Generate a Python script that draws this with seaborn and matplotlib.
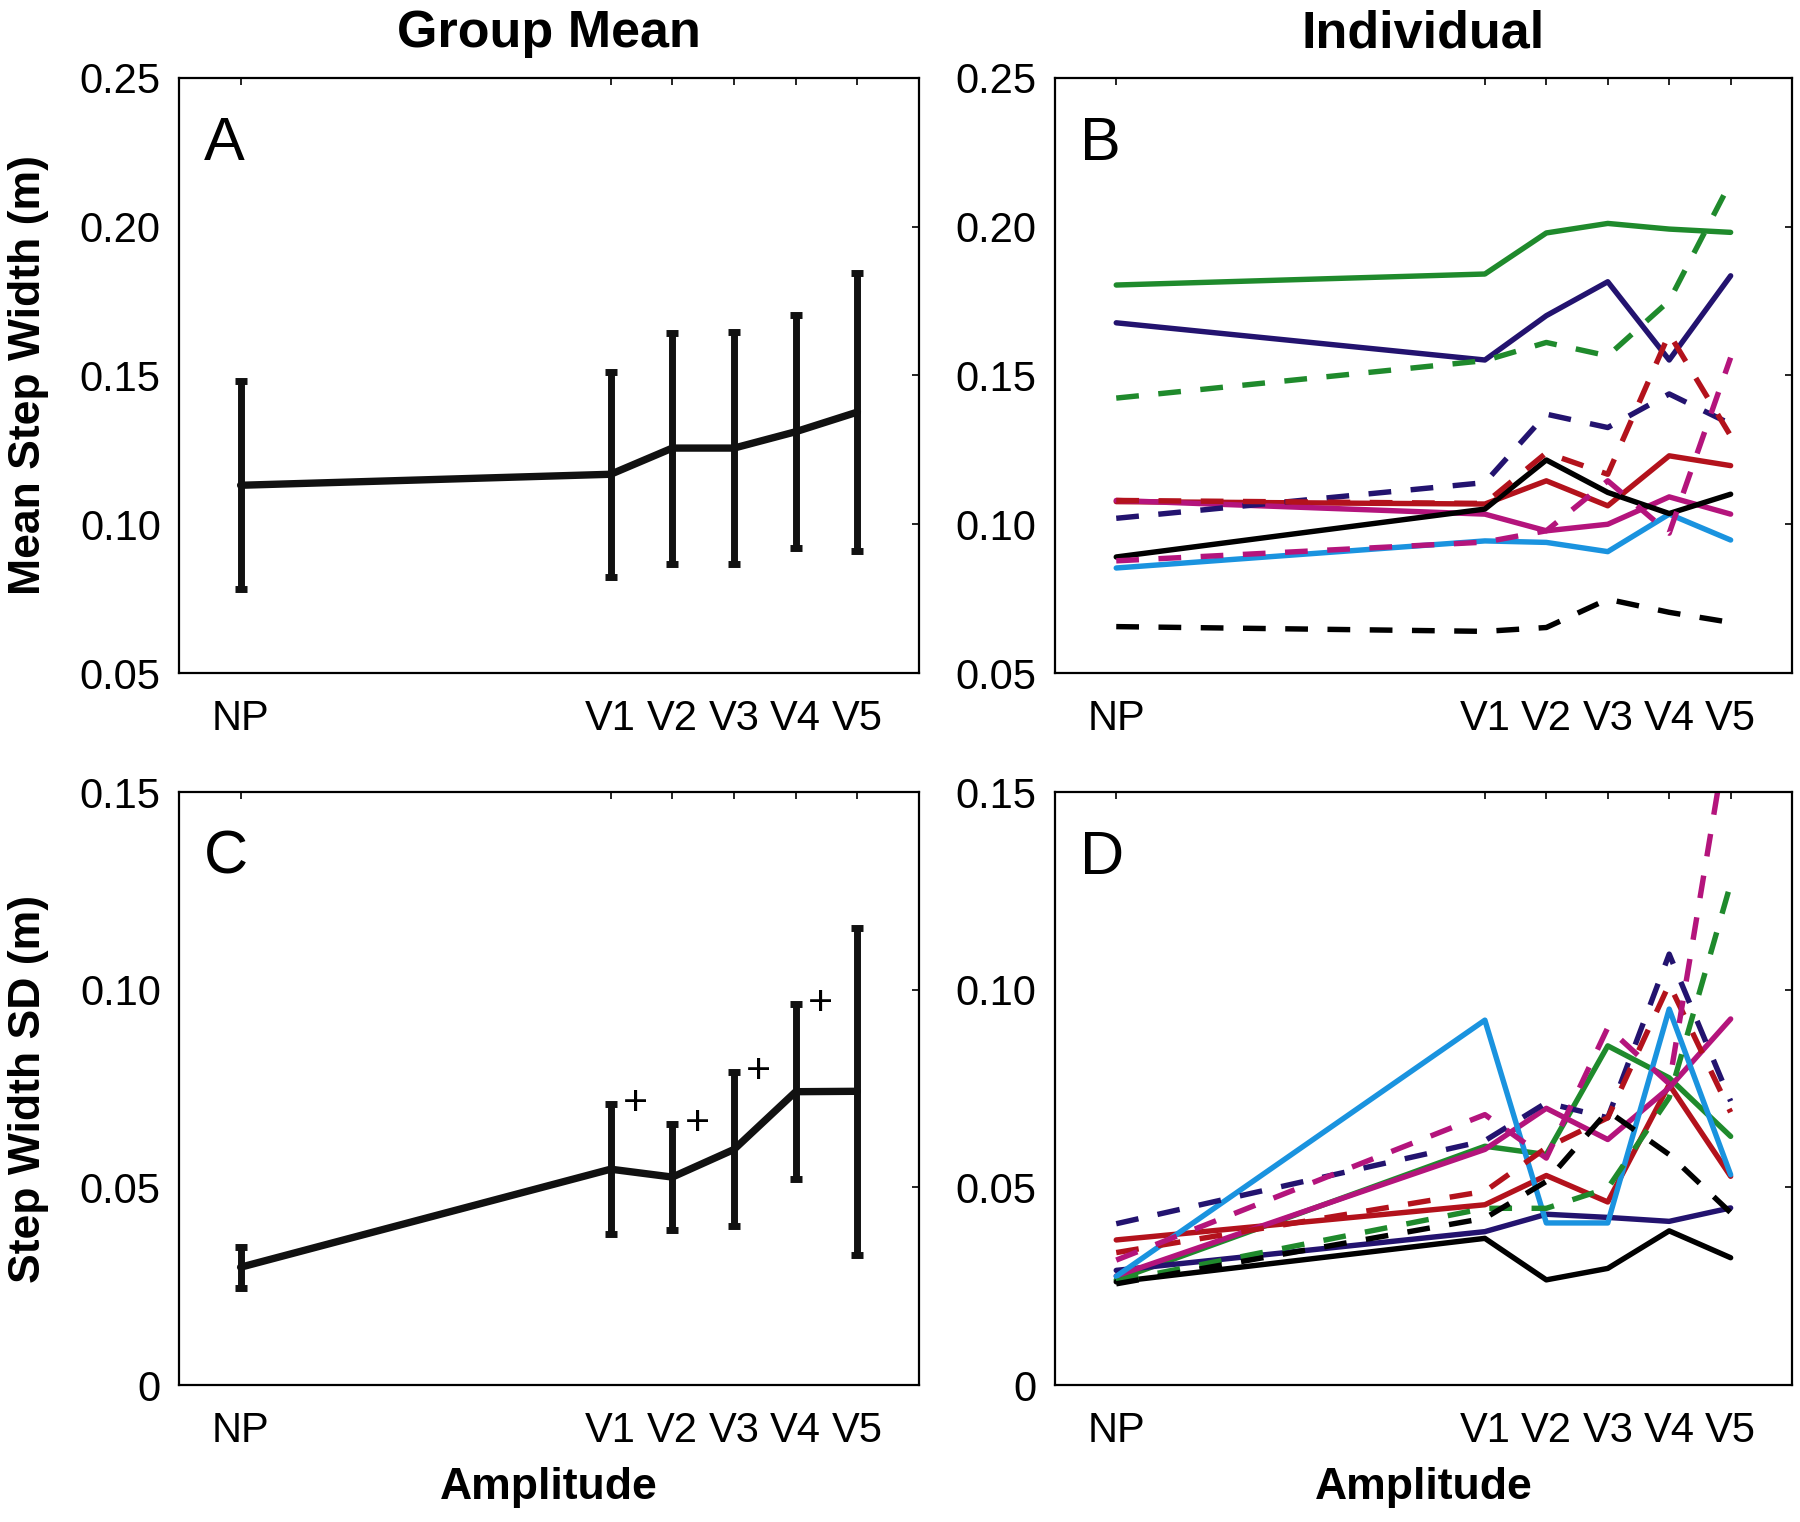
import numpy as np
import pandas as pd
import matplotlib
matplotlib.use("Agg")
import matplotlib.pyplot as plt
import seaborn as sns

# Conditions (no perturbation + five amplitudes)
conditions = ['NP', 'V1', 'V2', 'V3', 'V4', 'V5']
amp_pos = [0, 6, 7, 8, 9, 10]

# Group mean +/- SD
mean_width = [0.1131, 0.1168, 0.1256, 0.1256, 0.1311, 0.1377]
mean_width_err = [0.0350, 0.0344, 0.0388, 0.0390, 0.0392, 0.0467]
sd_width = [0.0298, 0.0546, 0.0526, 0.0596, 0.0742, 0.0743]
sd_width_err = [0.0052, 0.0164, 0.0134, 0.0195, 0.0222, 0.0413]
sd_marks = ['', '+', '+', '+', '+', '']

# Individual subjects
subjects = ['S1', 'S2', 'S3', 'S4', 'S5', 'S6', 'S7', 'S8', 'S9', 'S10', 'S11']
subject_colors = ['#1f8a2c', '#23136f', '#b3121c', '#b4147c', '#1a93df', '#000000',
                  '#1f8a2c', '#23136f', '#b3121c', '#b4147c', '#000000']
subject_dashed = [False, False, False, False, False, False,
                  True, True, True, True, True]

indiv_width = [
    [0.1804, 0.1841, 0.1979, 0.2011, 0.1992, 0.1981],
    [0.1677, 0.1552, 0.1701, 0.1815, 0.1552, 0.1835],
    [0.1076, 0.1068, 0.1146, 0.1062, 0.1230, 0.1197],
    [0.1080, 0.1034, 0.0978, 0.1000, 0.1092, 0.1034],
    [0.0853, 0.0944, 0.0939, 0.0908, 0.1034, 0.0947],
    [0.0890, 0.1051, 0.1216, 0.1107, 0.1036, 0.1101],
    [0.1424, 0.1550, 0.1611, 0.1566, 0.1751, 0.2150],
    [0.1020, 0.1140, 0.1370, 0.1325, 0.1438, 0.1337],
    [0.1080, 0.1070, 0.1240, 0.1168, 0.1640, 0.1297],
    [0.0877, 0.0940, 0.0978, 0.1146, 0.0970, 0.1560],
    [0.0656, 0.0640, 0.0653, 0.0748, 0.0704, 0.0670],
]

indiv_sd = [
    [0.0266, 0.0604, 0.0583, 0.0858, 0.0777, 0.0629],
    [0.0290, 0.0388, 0.0432, 0.0424, 0.0414, 0.0448],
    [0.0367, 0.0456, 0.0530, 0.0463, 0.0760, 0.0528],
    [0.0276, 0.0596, 0.0700, 0.0621, 0.0752, 0.0926],
    [0.0275, 0.0923, 0.0410, 0.0410, 0.0951, 0.0532],
    [0.0261, 0.0371, 0.0266, 0.0295, 0.0390, 0.0322],
    [0.0262, 0.0447, 0.0447, 0.0498, 0.0727, 0.1268],
    [0.0408, 0.0618, 0.0714, 0.0676, 0.1090, 0.0718],
    [0.0335, 0.0490, 0.0600, 0.0676, 0.1014, 0.0690],
    [0.0316, 0.0684, 0.0574, 0.0904, 0.0762, 0.1700],
    [0.0256, 0.0422, 0.0515, 0.0693, 0.0583, 0.0436],
]

sns.set_theme(style="white")
plt.rcParams['font.family'] = ['Liberation Sans', 'DejaVu Sans']
plt.rcParams.update({
    'xtick.direction': 'in', 'ytick.direction': 'in',
    'xtick.top': True, 'ytick.right': True,
    'axes.edgecolor': 'black', 'axes.linewidth': 1.6,
    'text.color': 'black', 'axes.labelcolor': 'black',
    'xtick.color': 'black', 'ytick.color': 'black',
})


def long_frame(values):
    rows = []
    for subj, vals in zip(subjects, values):
        for pos, v in zip(amp_pos, vals):
            rows.append({'subject': subj, 'amp': pos, 'value': v})
    return pd.DataFrame(rows)


palette = dict(zip(subjects, subject_colors))
dash_map = {s: ((4.2, 3.6) if d else '') for s, d in zip(subjects, subject_dashed)}

fig = plt.figure(figsize=(18, 15.22), dpi=100)
axA = fig.add_axes([0.0994, 0.5578, 0.4112, 0.3910])
axB = fig.add_axes([0.5860, 0.5578, 0.4096, 0.3910])
axC = fig.add_axes([0.0994, 0.0900, 0.4112, 0.3896])
axD = fig.add_axes([0.5860, 0.0900, 0.4096, 0.3896])

# group mean panels
for ax, m, e in [(axA, mean_width, mean_width_err), (axC, sd_width, sd_width_err)]:
    sns.lineplot(x=amp_pos, y=m, ax=ax, color='#111111', lw=5.3, errorbar=None)
    ax.errorbar(amp_pos, m, yerr=e, fmt='none', ecolor='#111111',
                elinewidth=5, capsize=4.5, capthick=5)

for pos, m, e, mark in zip(amp_pos, sd_width, sd_width_err, sd_marks):
    if mark:
        axC.text(pos + 0.4, m + e, mark, fontsize=31, ha='center', va='center')

# individual panels
for ax, vals in [(axB, indiv_width), (axD, indiv_sd)]:
    df = long_frame(vals)
    sns.lineplot(data=df, x='amp', y='value', hue='subject', style='subject',
                 palette=palette, dashes=dash_map, lw=3.9, errorbar=None,
                 legend=False, ax=ax)

for ax in [axA, axB]:
    ax.set_ylim(0.05, 0.25)
    ax.set_yticks([0.05, 0.10, 0.15, 0.20, 0.25])
    ax.set_yticklabels(['0.05', '0.10', '0.15', '0.20', '0.25'])
for ax in [axC, axD]:
    ax.set_ylim(0, 0.15)
    ax.set_yticks([0, 0.05, 0.10, 0.15])
    ax.set_yticklabels(['0', '0.05', '0.10', '0.15'])

for ax, letter in zip([axA, axB, axC, axD], ['A', 'B', 'C', 'D']):
    ax.set_xlim(-1, 11)
    ax.set_xticks(amp_pos)
    ax.set_xticklabels(conditions)
    ax.tick_params(axis='both', labelsize=30, length=5, width=1.2, colors='black')
    ax.tick_params(axis='x', pad=19)
    ax.tick_params(axis='y', pad=13)
    ax.set_xlabel('')
    ax.set_ylabel('')
    ax.text(0.034, 0.862, letter, transform=ax.transAxes, fontsize=44,
            va='baseline', ha='left', color='black')
    for s in ax.spines.values():
        s.set_visible(True)

axA.set_title('Group Mean', fontsize=37.5, fontweight='bold', pad=22, color='black')
axB.set_title('Individual', fontsize=37.5, fontweight='bold', pad=22, color='black')

axA.set_ylabel('Mean Step Width (m)', fontsize=32, fontweight='bold')
axC.set_ylabel('Step Width SD (m)', fontsize=32, fontweight='bold')
axA.yaxis.set_label_coords(-0.175, 0.5)
axC.yaxis.set_label_coords(-0.175, 0.5)

axC.set_xlabel('Amplitude', fontsize=32, fontweight='bold')
axD.set_xlabel('Amplitude', fontsize=32, fontweight='bold')
axC.xaxis.set_label_coords(0.5, -0.138)
axD.xaxis.set_label_coords(0.5, -0.138)

fig.savefig('out.png', dpi=100, facecolor='white')
